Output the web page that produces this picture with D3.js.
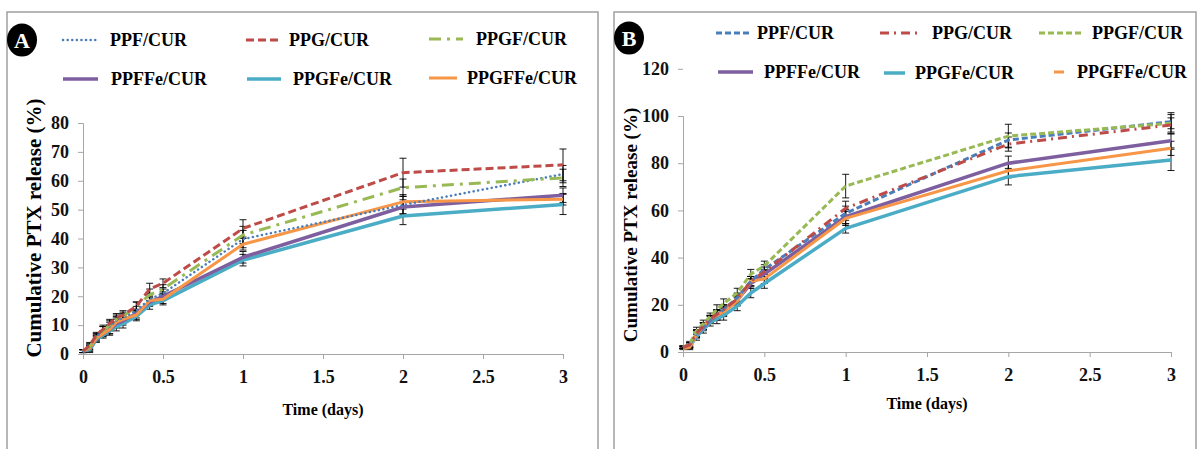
<!DOCTYPE html>
<html>
<head>
<meta charset="utf-8">
<script src="https://cdn.jsdelivr.net/npm/d3@7"></script>
<style>
  body { margin: 0; background: #fff; }
  svg { display: block; font-family: "Liberation Serif", "Times New Roman", serif; font-weight: bold; }
</style>
</head>
<body>
<svg id="chart" width="1198" height="449"></svg>
<script>
// Sampling times (days): 0,1,2,3,4,5,6,8,10,12 h then 1, 2, 3 days
const timeDays = [0, 1/24, 2/24, 3/24, 4/24, 5/24, 6/24, 8/24, 10/24, 12/24, 1, 2, 3];
const seriesNames = ['PPF/CUR', 'PPG/CUR', 'PPGF/CUR', 'PPFFe/CUR', 'PPGFe/CUR', 'PPGFFe/CUR'];
const xTicks = [0, 0.5, 1, 1.5, 2, 2.5, 3];
const yTicksA = [0, 10, 20, 30, 40, 50, 60, 70, 80];
const yTicksB = [0, 20, 40, 60, 80, 100, 120];

// Panel A – cumulative release (%)
const releaseA_PPF    = [1, 2.5, 6, 8, 9.5, 11.5, 12.5, 15, 19, 21, 39.8, 51.6, 62.3];
const releaseA_PPG    = [1, 3, 6.5, 8.5, 10.5, 12.5, 13.5, 16.5, 22.5, 24.5, 43.5, 62.8, 65.5];
const releaseA_PPGF   = [1, 2.5, 6, 8, 10, 12, 13, 16.5, 20.5, 22.5, 41.2, 57.6, 61];
const releaseA_PPFFe  = [1, 2, 5.5, 7, 8.5, 10.5, 11.5, 14, 18, 20, 33.5, 50.9, 55];
const releaseA_PPGFe  = [1, 1.5, 5, 6.5, 8, 9.5, 10.5, 13, 17, 18.5, 32.5, 47.8, 51.8];
const releaseA_PPGFFe = [1, 2, 5.5, 7, 8.5, 11, 12, 13.5, 18.5, 19, 38, 52.7, 53.6];
const errA_PPF    = [0.5, 1, 1, 1.5, 1.5, 1.5, 1.5, 1.5, 2, 1.5, 3, 3, 3];
const errA_PPG    = [0.5, 1, 1, 1.5, 1.5, 1.5, 1.5, 1.5, 2, 1.5, 3, 5, 5.5];
const errA_PPGF   = [0.5, 1, 1, 1.5, 1.5, 1.5, 1.5, 1.5, 2, 1.5, 3, 3, 3];
const errA_PPFFe  = [0.5, 1, 1, 1, 1.5, 1.5, 1.5, 1.5, 1.5, 1.5, 2, 2.5, 2.5];
const errA_PPGFe  = [0.5, 1, 1, 1, 1.5, 1.5, 1.5, 1.5, 1.5, 1.5, 2, 3, 3.5];
const errA_PPGFFe = [0.5, 1, 1, 1, 1.5, 1.5, 1.5, 1.5, 1.5, 1.5, 2, 2.5, 2];

// Panel B – cumulative release (%)
const releaseB_PPF    = [2, 3, 8, 11, 14, 16, 18, 23, 30, 35, 58.8, 89.8, 97.6];
const releaseB_PPG    = [2, 3, 8, 11, 14, 16, 18, 22.5, 30, 34, 60.9, 88.1, 96.2];
const releaseB_PPGF   = [2, 3.5, 9, 12, 15, 18, 20.5, 25, 33, 36.5, 70.3, 91.5, 96.9];
const releaseB_PPFFe  = [2, 3, 7.5, 10.5, 13.5, 15.5, 17.5, 22, 29, 33, 57.3, 80, 89.5];
const releaseB_PPGFe  = [2, 2.5, 6.5, 9.5, 12.5, 14, 15.5, 19.5, 25, 29, 52.4, 74.3, 81.4];
const releaseB_PPGFFe = [1.5, 2, 7.5, 11, 14, 15.5, 17, 21.5, 30, 31, 56.6, 76.8, 86.3];
const errB_PPF    = [0.5, 1, 1.5, 1.5, 1.5, 2, 2, 2, 2, 2, 3, 3, 3];
const errB_PPG    = [0.5, 1, 1.5, 1.5, 1.5, 2, 2, 2, 2, 2, 3, 3, 3];
const errB_PPGF   = [0.5, 1, 1.5, 1.5, 1.5, 2, 2, 2, 2, 2, 5, 5, 4.5];
const errB_PPFFe  = [0.5, 1, 1.5, 1.5, 1.5, 2, 2, 2, 2, 2, 3, 3, 3];
const errB_PPGFe  = [0.5, 1, 1.5, 1.5, 1.5, 2, 2, 2, 2, 2, 2, 3.5, 4.5];
const errB_PPGFFe = [0.5, 1, 1.5, 1.5, 1.5, 2, 2, 2, 2, 2, 3, 3, 3];

const colors = ['#4a7ebb', '#be4b48', '#98b954', '#7d5fa0', '#4bacc6', '#f79646'];

const svg = d3.select('#chart');

function drawPanel(p) {
    const g = svg.append('g');

    // panel frame
    g.append('path')
        .attr('d', `M${p.frame[0]},449 V${p.frame[1]} H${p.frame[2]} V449`)
        .attr('fill', 'none').attr('stroke', '#a0a0a0').attr('stroke-width', 1.5);

    const x = d3.scaleLinear().domain([0, 3]).range([p.x0, p.x1]);
    const y = d3.scaleLinear().domain([0, p.yMax]).range([p.y0, p.y1]);

    const xAxis = g.append('g').attr('transform', `translate(0,${p.y0})`)
        .call(d3.axisBottom(x).tickValues(xTicks).tickSize(5).tickPadding(11).tickFormat(d3.format('')));
    const yAxis = g.append('g').attr('transform', `translate(${p.x0},0)`)
        .call(d3.axisLeft(y).tickValues(p.yTicks).tickSize(5).tickPadding(9));
    [xAxis, yAxis].forEach(a => {
        a.select('.domain').attr('stroke', '#a6a6a6');
        a.selectAll('.tick line').attr('stroke', '#a6a6a6');
        a.selectAll('.tick text').attr('fill', '#111')
            .style('font-family', '"Liberation Serif", serif').style('font-weight', 'bold')
            .style('font-size', '18px');
    });

    // axis titles
    g.append('text')
        .attr('transform', `translate(${(p.x0 + p.x1) / 2},${p.y0 + p.timeDy})`)
        .attr('text-anchor', 'middle').style('font-size', '16px').text('Time (days)');
    g.append('text')
        .attr('transform', `translate(${p.titleX},${p.titleY}) rotate(-90)`)
        .attr('text-anchor', 'middle').attr('dy', '0.35em')
        .style('font-size', p.titleSize + 'px').text('Cumulative PTX release (%)');

    // error bars
    const capW = 3.5;
    p.series.forEach((s, i) => {
        const eb = g.append('g').attr('stroke', '#000').attr('stroke-width', 0.9);
        timeDays.forEach((t, k) => {
            const cx = x(t), top = y(s[k] + p.errs[i][k]), bot = y(s[k] - p.errs[i][k]);
            eb.append('line').attr('x1', cx).attr('x2', cx).attr('y1', top).attr('y2', bot);
            eb.append('line').attr('x1', cx - capW).attr('x2', cx + capW).attr('y1', top).attr('y2', top);
            eb.append('line').attr('x1', cx - capW).attr('x2', cx + capW).attr('y1', bot).attr('y2', bot);
        });
    });

    // lines
    const line = d3.line().x((d, k) => x(timeDays[k])).y(d => y(d));
    const order = [4, 3, 5, 0, 2, 1];
    order.forEach(i => {
        g.append('path').datum(p.series[i])
            .attr('d', line).attr('fill', 'none')
            .attr('stroke', colors[i]).attr('stroke-width', p.widths[i])
            .attr('stroke-dasharray', p.dashes[i])
            .attr('stroke-linecap', p.dashes[i] === p.dotDash ? 'round' : 'butt')
            .attr('stroke-linejoin', 'round');
    });

    // legend
    p.legend.forEach((L, i) => {
        g.append('line').attr('x1', L.sx).attr('x2', L.ex).attr('y1', L.y).attr('y2', L.y)
            .attr('stroke', colors[i]).attr('stroke-width', p.widths[i])
            .attr('stroke-dasharray', p.dashes[i])
            .attr('stroke-linecap', p.dashes[i] === p.dotDash ? 'round' : 'butt');
        g.append('text')
            .attr('x', L.tx).attr('y', L.y)
            .attr('dy', '0.33em').style('font-size', '18px').text(seriesNames[i]);
    });

    // panel badge
    g.append('ellipse').attr('cx', p.badge[0]).attr('cy', p.badge[1]).attr('rx', 15).attr('ry', 16.5).attr('fill', '#000');
    g.append('text').attr('x', p.badge[0]).attr('y', p.badge[1]).attr('dy', '0.35em')
        .attr('text-anchor', 'middle').attr('fill', '#fff').style('font-size', '22px').text(p.badgeText);
}

drawPanel({
    frame: [7, 12, 598], x0: 83, x1: 563, y0: 354, y1: 123, yMax: 80, yTicks: yTicksA,
    titleX: 34, titleY: 228, titleSize: 21, timeDy: 61,
    series: [releaseA_PPF, releaseA_PPG, releaseA_PPGF, releaseA_PPFFe, releaseA_PPGFe, releaseA_PPGFFe],
    errs: [errA_PPF, errA_PPG, errA_PPGF, errA_PPFFe, errA_PPGFe, errA_PPGFFe],
    widths: [2.5, 3, 3, 3.5, 3.5, 3],
    dotDash: '0.1,4.5',
    dashes: ['0.1,4.5', '8,4', '12,6,3,6', null, null, null],
    legend: [
        { sx: 63, ex: 98, tx: 110, y: 40 }, { sx: 246, ex: 281, tx: 289, y: 40 }, { sx: 429, ex: 463, tx: 476, y: 39 },
        { sx: 63, ex: 98, tx: 111, y: 79 }, { sx: 247, ex: 281, tx: 293, y: 79 }, { sx: 429, ex: 457, tx: 467, y: 78 }
    ],
    badge: [22, 40], badgeText: 'A'
});

drawPanel({
    frame: [614, 12, 1196], x0: 683, x1: 1171, y0: 352, y1: 116, yMax: 100, yTicks: yTicksB,
    titleX: 630, titleY: 225, titleSize: 19, timeDy: 57,
    series: [releaseB_PPF, releaseB_PPG, releaseB_PPGF, releaseB_PPFFe, releaseB_PPGFe, releaseB_PPGFFe],
    errs: [errB_PPF, errB_PPG, errB_PPGF, errB_PPFFe, errB_PPGFe, errB_PPGFFe],
    widths: [3, 3, 3, 3.5, 3.5, 3],
    dotDash: 'none',
    dashes: ['6,3', '9,5,2,5', '6,3', null, null, null],
    legend: [
        { sx: 716, ex: 751, tx: 757, y: 33 }, { sx: 880, ex: 917, tx: 932, y: 33 }, { sx: 1039, ex: 1081, tx: 1092, y: 33 },
        { sx: 718, ex: 753, tx: 764, y: 72 }, { sx: 884, ex: 905, tx: 915, y: 73 }, { sx: 1054, ex: 1064, tx: 1077, y: 72 }
    ],
    badge: [629, 38], badgeText: 'B'
});
</script>
</body>
</html>
